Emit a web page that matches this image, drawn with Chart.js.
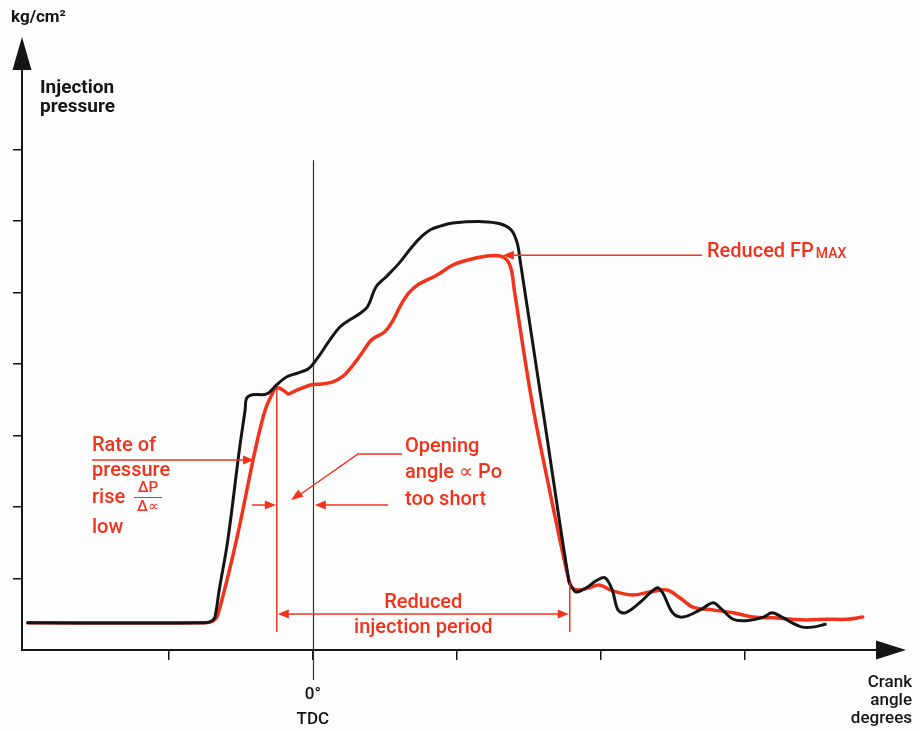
<!DOCTYPE html>
<html>
<head>
<meta charset="utf-8">
<script src="https://cdn.jsdelivr.net/npm/chart.js@4"></script>
<style>
  html, body { margin: 0; padding: 0; background: #fdfdfd; }
  #wrap { width: 920px; height: 731px; }
</style>
</head>
<body>
<div id="wrap"><canvas id="chart" width="920" height="731"></canvas></div>
<script>
// crank angle (deg, 0 = TDC) and injection pressure (kg/cm2)
const blackAngle = [-19.8, -7.5, -7.0, -6.8, -6.5, -5.9, -5.1, -4.7, -4.6, -4.2, -3.5, -3.1, -2.5, -1.8, -1.1, -0.4, -0.1, 0.5, 1.2, 1.9, 2.6, 3.3, 3.8, 4.4, 5.1, 6.0, 6.9, 7.6, 8.2, 8.9, 9.7, 11.8, 13.0, 13.8, 14.2, 14.4, 16.1, 17.8, 18.0, 18.3, 19.0, 19.7, 20.3, 20.8, 21.2, 21.7, 22.7, 23.9, 24.3, 25.0, 25.7, 26.9, 27.8, 28.3, 29.2, 30.1, 31.3, 31.9, 32.6, 33.3, 34.0, 34.7, 35.6];
const blackPressure = [38, 38, 41, 46, 84, 154, 280, 336, 352, 357, 357, 359, 371, 382, 387, 392, 397, 413, 434, 452, 462, 471, 480, 508, 522, 541, 564, 579, 588, 593, 597, 599, 596, 587, 569, 545, 320, 95, 88, 81, 87, 97, 101, 84, 56, 52, 66, 87, 80, 52, 46, 56, 66, 59, 43, 41, 46, 52, 46, 38, 32, 32, 36];

const redAngle = [-19.8, -7.5, -6.9, -6.6, -5.3, -4.0, -3.3, -2.8, -2.6, -2.3, -1.9, -1.7, -1.25, -0.8, -0.1, 0.6, 1.4, 2.1, 2.7, 3.4, 4.1, 5.0, 5.6, 6.1, 6.7, 7.4, 8.6, 9.7, 10.7, 12.1, 13.0, 13.5, 13.8, 14.0, 15.2, 16.4, 17.7, 18.0, 18.5, 19.2, 19.9, 20.8, 22.2, 23.4, 24.6, 25.5, 26.4, 27.8, 29.2, 30.6, 31.9, 33.3, 34.3, 35.7, 37.1, 38.2];
const redPressure = [38, 38, 41, 49, 154, 280, 336, 359, 366, 366, 361, 358, 362, 366, 371, 372, 375, 383, 396, 415, 434, 445, 462, 482, 500, 512, 524, 538, 545, 551, 551, 545, 531, 503, 350, 228, 105, 87, 84, 87, 91, 83, 77, 81, 84, 73, 60, 56, 52, 46, 45, 43, 42, 43, 43, 46];

const xTickValues = [-10, 0, 10, 20, 30];
const yTickValues = [100, 200, 300, 400, 500, 600, 700];

// reference marks (data units)
const tdcAngle = 0;
const openAngle = -2.5;
const endAngle = 17.85;
const fpMaxAngle = 13.2;
const fpMaxPressure = 552;

const RED = '#f2331c';
const INK = '#151515';
const FONT = 'Roboto, "Liberation Sans", sans-serif';

function toXY(xs, ys) {
  return xs.map((v, i) => ({ x: v, y: ys[i] }));
}

function arrowHead(ctx, x, y, angle, len, half, color) {
  ctx.save();
  ctx.fillStyle = color;
  ctx.translate(x, y);
  ctx.rotate(angle);
  ctx.beginPath();
  ctx.moveTo(0, 0);
  ctx.lineTo(-len, -half);
  ctx.lineTo(-len, half);
  ctx.closePath();
  ctx.fill();
  ctx.restore();
}

function line(ctx, pts, color, w) {
  ctx.save();
  ctx.strokeStyle = color;
  ctx.lineWidth = w;
  ctx.beginPath();
  ctx.moveTo(pts[0][0], pts[0][1]);
  for (let i = 1; i < pts.length; i++) ctx.lineTo(pts[i][0], pts[i][1]);
  ctx.stroke();
  ctx.restore();
}

function text(ctx, str, x, y, opts) {
  ctx.save();
  ctx.font = opts.font;
  ctx.fillStyle = opts.color;
  ctx.textAlign = opts.align || 'left';
  ctx.textBaseline = 'middle';
  ctx.fillText(str, x, y);
  ctx.restore();
}

const annotations = {
  id: 'annotations',
  beforeDatasetsDraw(chart) {
    const { ctx, scales: { x, y }, chartArea } = chart;
    // TDC line
    const tx = Math.round(x.getPixelForValue(tdcAngle)) + 0.5;
    line(ctx, [[tx, y.getPixelForValue(685)], [tx, chartArea.bottom + 30]], '#333', 1.2);
  },
  afterDraw(chart) {
    const { ctx, scales: { x, y }, chartArea } = chart;
    const L = chartArea.left, B = chartArea.bottom;

    // axis arrows
    arrowHead(ctx, L, 37, -Math.PI / 2, 33, 9.5, INK);
    line(ctx, [[chartArea.right - 2, B], [878, B]], INK, 2);
    arrowHead(ctx, 906, B, 0, 30, 9.5, INK);

    // axis texts
    const mid = '500 17px ' + FONT;
    text(ctx, 'kg/cm²', 11, 18, { font: 'bold 17px ' + FONT, color: INK });
    text(ctx, 'Injection', 40, 88, { font: 'bold 19px ' + FONT, color: INK });
    text(ctx, 'pressure', 40, 107, { font: 'bold 19px ' + FONT, color: INK });
    const tx = x.getPixelForValue(tdcAngle);
    text(ctx, '0°', tx, 695, { font: mid, color: INK, align: 'center' });
    text(ctx, 'TDC', tx, 720, { font: mid, color: INK, align: 'center' });
    text(ctx, 'Crank', 912, 683, { font: mid, color: INK, align: 'right' });
    text(ctx, 'angle', 912, 701, { font: mid, color: INK, align: 'right' });
    text(ctx, 'degrees', 912, 719, { font: mid, color: INK, align: 'right' });

    // red marker lines
    const ox = x.getPixelForValue(openAngle);
    const ex = x.getPixelForValue(endAngle);
    line(ctx, [[ox, y.getPixelForValue(366)], [ox, y.getPixelForValue(25)]], RED, 1.5);
    line(ctx, [[ex, y.getPixelForValue(94)], [ex, y.getPixelForValue(25)]], RED, 1.5);

    const rf = '500 20px ' + FONT;
    // Reduced FPmax
    const fx = x.getPixelForValue(fpMaxAngle), fy = y.getPixelForValue(fpMaxPressure);
    line(ctx, [[702, fy], [fx + 8, fy]], RED, 1.5);
    arrowHead(ctx, fx, fy, Math.PI, 11, 4.5, RED);
    text(ctx, 'Reduced FP', 707, 252, { font: rf, color: RED });
    ctx.save(); ctx.font = rf; const w = ctx.measureText('Reduced FP').width; ctx.restore();
    text(ctx, 'MAX', 707 + w + 2, 254, { font: '500 14px ' + FONT, color: RED });

    // Rate of pressure rise
    text(ctx, 'Rate of', 92, 446, { font: rf, color: RED });
    text(ctx, 'pressure', 92, 471, { font: rf, color: RED });
    text(ctx, 'rise', 92, 498, { font: rf, color: RED });
    text(ctx, 'low', 92, 528, { font: rf, color: RED });
    text(ctx, 'ΔP', 148, 488, { font: '500 15px ' + FONT, color: RED, align: 'center' });
    line(ctx, [[134, 497.5], [162, 497.5]], RED, 1);
    text(ctx, 'Δ∝', 148, 507, { font: '500 15px ' + FONT, color: RED, align: 'center' });
    line(ctx, [[92, 460], [246, 460]], RED, 1.5);
    arrowHead(ctx, 254, 460, 0, 11, 4.5, RED);

    // opening angle arrows
    line(ctx, [[252, 505], [ox - 8, 505]], RED, 1.5);
    arrowHead(ctx, ox - 1, 505, 0, 11, 4.5, RED);
    line(ctx, [[388, 505], [tx + 10, 505]], RED, 1.5);
    arrowHead(ctx, tx + 2, 505, Math.PI, 11, 4.5, RED);
    line(ctx, [[402, 454], [358, 454], [298, 496]], RED, 1.5);
    arrowHead(ctx, 291, 500, Math.atan2(46, -66), 12, 4.5, RED);
    text(ctx, 'Opening', 405, 447, { font: rf, color: RED });
    text(ctx, 'angle ∝ Po', 405, 473, { font: rf, color: RED });
    text(ctx, 'too short', 405, 500, { font: rf, color: RED });

    // reduced injection period
    const py = 614;
    line(ctx, [[ox + 8, py], [ex - 8, py]], RED, 1.5);
    arrowHead(ctx, ox + 1, py, Math.PI, 11, 4.5, RED);
    arrowHead(ctx, ex - 1, py, 0, 11, 4.5, RED);
    const cx = (ox + ex) / 2;
    text(ctx, 'Reduced', cx, 603, { font: rf, color: RED, align: 'center' });
    text(ctx, 'injection period', cx, 628, { font: rf, color: RED, align: 'center' });
  }
};

new Chart(document.getElementById('chart'), {
  type: 'line',
  data: {
    datasets: [
      {
        label: 'Normal',
        data: toXY(blackAngle, blackPressure),
        borderColor: INK,
        borderWidth: 3,
        pointRadius: 0,
        tension: 0.35,
        borderJoinStyle: 'round',
        borderCapStyle: 'round'
      },
      {
        label: 'Reduced',
        data: toXY(redAngle, redPressure),
        borderColor: RED,
        borderWidth: 3.5,
        pointRadius: 0,
        tension: 0.35,
        borderJoinStyle: 'round',
        borderCapStyle: 'round'
      }
    ]
  },
  options: {
    responsive: false,
    animation: false,
    devicePixelRatio: 1,
    layout: { padding: { left: 13, right: 40, top: 45, bottom: 71 } },
    plugins: { legend: { display: false }, tooltip: { enabled: false } },
    scales: {
      x: {
        type: 'linear',
        min: -20.2,
        max: 39.4,
        border: { display: true, color: INK, width: 2 },
        grid: { drawOnChartArea: false, drawTicks: true, tickLength: 10, color: INK, lineWidth: 1.5 },
        ticks: { display: false },
        afterBuildTicks: s => { s.ticks = xTickValues.map(v => ({ value: v })); }
      },
      y: {
        min: 0,
        max: 846,
        border: { display: true, color: INK, width: 2 },
        grid: { drawOnChartArea: false, drawTicks: true, tickLength: 9, color: INK, lineWidth: 1.5 },
        ticks: { display: false },
        afterBuildTicks: s => { s.ticks = yTickValues.map(v => ({ value: v })); }
      }
    }
  },
  plugins: [annotations]
});
</script>
</body>
</html>
